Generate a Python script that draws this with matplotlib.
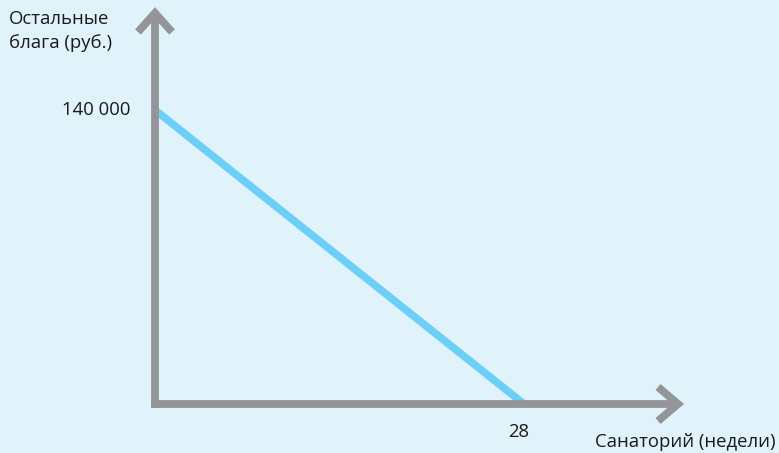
import matplotlib
matplotlib.use("Agg")
import matplotlib.pyplot as plt

# data
x_values = [0, 28]
y_values = [140000, 0]
y_tick_label = "140 000"
x_tick_label = "28"
y_title = "Остальные\nблага (руб.)"
x_title = "Санаторий (недели)"

W, H = 779, 453
bg = "#e0f2fa"
gray = "#939598"
blue = "#6dcff6"

# pixel mapping
ox, oy = 155, 404
sx = (524 - ox) / 28.0
sy = (404 - 110) / 140000.0

def px2x(p):
    return (p - ox) / sx

def py2y(p):
    return (oy - p) / sy

fig = plt.figure(figsize=(W / 100, H / 100), dpi=100)
fig.patch.set_facecolor(bg)
ax = fig.add_axes([0, 0, 1, 1])
ax.set_facecolor(bg)
ax.set_xlim(px2x(0), px2x(W))
ax.set_ylim(py2y(H), py2y(0))
ax.axis("off")

lw_axis = 5.6
# vertical axis
ax.plot([0, 0], [py2y(408), py2y(15)], color=gray, lw=lw_axis, solid_capstyle="butt", zorder=2)
ax.plot([px2x(138), 0, px2x(172)], [py2y(32), py2y(13), py2y(32)], color=gray, lw=lw_axis,
        solid_joinstyle="miter", solid_capstyle="butt", zorder=2)
# horizontal axis
ax.plot([px2x(151), px2x(677)], [0, 0], color=gray, lw=lw_axis, solid_capstyle="butt", zorder=2)
ax.plot([px2x(658), px2x(678), px2x(658)], [py2y(387), 0, py2y(421)], color=gray, lw=lw_axis,
        solid_joinstyle="miter", solid_capstyle="butt", zorder=2)

# budget line
ax.plot(x_values, y_values, color=blue, lw=5.5, solid_capstyle="butt", zorder=1)

font = "Open Sans"
fs = 13.3
ax.text(px2x(130), y_values[0], y_tick_label, ha="right", va="center", fontsize=fs,
        family=font, color="#1a1a1a")
ax.text(px2x(519), py2y(432), x_tick_label, ha="center", va="center",
        fontsize=fs, family=font, color="#1a1a1a")
ax.text(px2x(9), py2y(10), y_title, ha="left", va="top", fontsize=fs, family=font,
        color="#1a1a1a", linespacing=1.45)
ax.text(px2x(776), py2y(442), x_title, ha="right", va="center", fontsize=fs, family=font,
        color="#1a1a1a")

fig.savefig("out.png", dpi=100, facecolor=bg)
